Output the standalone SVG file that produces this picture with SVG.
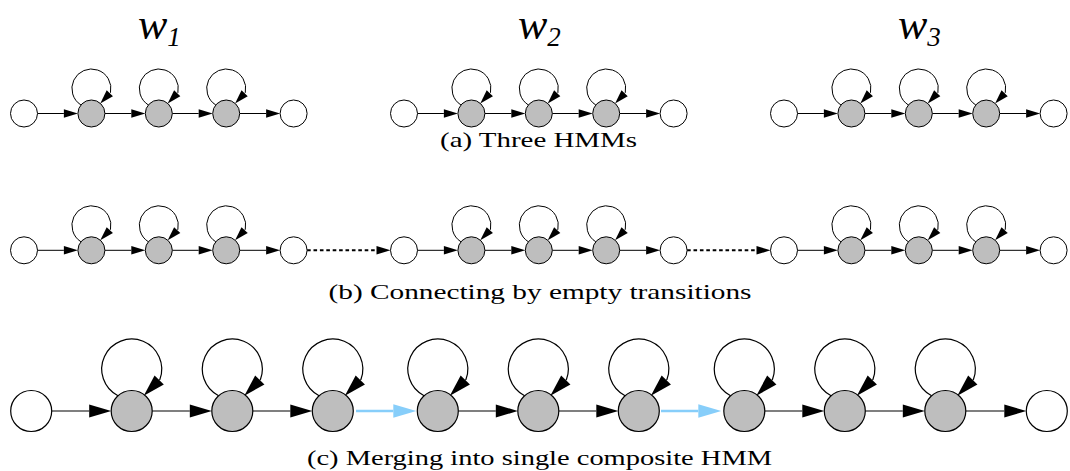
<svg xmlns="http://www.w3.org/2000/svg" width="1070" height="471" viewBox="0 0 1070 471">
  <defs>
    <style>
      .st { fill: #ffffff; stroke: #000; stroke-width: 1; }
      .hs { fill: #bebebe; stroke: #000; stroke-width: 1; }
      .stL { fill: #ffffff; stroke: #000; stroke-width: 1.2; }
      .hsL { fill: #bebebe; stroke: #000; stroke-width: 1.2; }
      .e { fill: none; stroke: #000; stroke-width: 1; marker-end: url(#arrA); }
      .dot { fill: none; stroke: #000; stroke-width: 2; stroke-dasharray: 3.6 2.8; marker-end: url(#arrA); }
      .eL { fill: none; stroke: #000; stroke-width: 1.2; marker-end: url(#arrC); }
      .blue { fill: none; stroke: #87cefa; stroke-width: 2.4; marker-end: url(#arrB); }
      .wl { font-family: "Liberation Serif", "Times New Roman", serif; font-style: italic; font-size: 44px; fill: #000; }
      .cap { font-family: "Liberation Serif", "Times New Roman", serif; font-size: 21px; fill: #000; }
    </style>
    <marker id="arrA" markerUnits="userSpaceOnUse" markerWidth="15" markerHeight="10" refX="0" refY="4.25" orient="auto" overflow="visible">
      <path d="M0,0 L14,4.25 L0,8.5 z" fill="#000"/>
    </marker>
    <marker id="arrC" markerUnits="userSpaceOnUse" markerWidth="23" markerHeight="14" refX="0" refY="6.5" orient="auto" overflow="visible">
      <path d="M0,0 L22,6.5 L0,13 z" fill="#000"/>
    </marker>
    <marker id="arrB" markerUnits="userSpaceOnUse" markerWidth="24" markerHeight="14" refX="0" refY="6.7" orient="auto" overflow="visible">
      <path d="M0,0 L23,6.7 L0,13.4 z" fill="#87cefa"/>
    </marker>
  </defs>

  <rect x="0" y="0" width="1070" height="471" fill="#ffffff"/>

  <!-- word labels -->
  <text class="wl" x="138" y="39">w<tspan font-size="27" dy="6.5">1</tspan></text>
  <text class="wl" x="518" y="39">w<tspan font-size="27" dy="6.5">2</tspan></text>
  <text class="wl" x="898" y="39">w<tspan font-size="27" dy="6.5">3</tspan></text>

  <!-- connectors -->
  <g id="connectors">
    <!-- (a) straight transitions -->
    <line class="e" x1="37.5" y1="113.5" x2="63.9" y2="113.5"/>
    <line class="e" x1="104.9" y1="113.5" x2="131.3" y2="113.5"/>
    <line class="e" x1="172.3" y1="113.5" x2="198.7" y2="113.5"/>
    <line class="e" x1="239.7" y1="113.5" x2="266.1" y2="113.5"/>
    <line class="e" x1="417.5" y1="113.5" x2="443.9" y2="113.5"/>
    <line class="e" x1="484.9" y1="113.5" x2="511.3" y2="113.5"/>
    <line class="e" x1="552.3" y1="113.5" x2="578.7" y2="113.5"/>
    <line class="e" x1="619.7" y1="113.5" x2="646.1" y2="113.5"/>
    <line class="e" x1="797.5" y1="113.5" x2="823.9" y2="113.5"/>
    <line class="e" x1="864.9" y1="113.5" x2="891.3" y2="113.5"/>
    <line class="e" x1="932.3" y1="113.5" x2="958.7" y2="113.5"/>
    <line class="e" x1="999.7" y1="113.5" x2="1026.1" y2="113.5"/>
    <!-- (a) self loops, each drawn around its state centre -->
    <path class="e" transform="translate(91.4,113.5)" d="M-10.4,-8.5 A19.5 19.5 0 1 1 19.1,-21 l-0.68,0.73"/>
    <path class="e" transform="translate(158.8,113.5)" d="M-10.4,-8.5 A19.5 19.5 0 1 1 19.1,-21 l-0.68,0.73"/>
    <path class="e" transform="translate(226.2,113.5)" d="M-10.4,-8.5 A19.5 19.5 0 1 1 19.1,-21 l-0.68,0.73"/>
    <path class="e" transform="translate(471.4,113.5)" d="M-10.4,-8.5 A19.5 19.5 0 1 1 19.1,-21 l-0.68,0.73"/>
    <path class="e" transform="translate(538.8,113.5)" d="M-10.4,-8.5 A19.5 19.5 0 1 1 19.1,-21 l-0.68,0.73"/>
    <path class="e" transform="translate(606.2,113.5)" d="M-10.4,-8.5 A19.5 19.5 0 1 1 19.1,-21 l-0.68,0.73"/>
    <path class="e" transform="translate(851.4,113.5)" d="M-10.4,-8.5 A19.5 19.5 0 1 1 19.1,-21 l-0.68,0.73"/>
    <path class="e" transform="translate(918.8,113.5)" d="M-10.4,-8.5 A19.5 19.5 0 1 1 19.1,-21 l-0.68,0.73"/>
    <path class="e" transform="translate(986.2,113.5)" d="M-10.4,-8.5 A19.5 19.5 0 1 1 19.1,-21 l-0.68,0.73"/>

    <!-- (b) straight transitions -->
    <line class="e" x1="37.5" y1="250.3" x2="63.9" y2="250.3"/>
    <line class="e" x1="104.9" y1="250.3" x2="131.3" y2="250.3"/>
    <line class="e" x1="172.3" y1="250.3" x2="198.7" y2="250.3"/>
    <line class="e" x1="239.7" y1="250.3" x2="266.1" y2="250.3"/>
    <line class="e" x1="417.5" y1="250.3" x2="443.9" y2="250.3"/>
    <line class="e" x1="484.9" y1="250.3" x2="511.3" y2="250.3"/>
    <line class="e" x1="552.3" y1="250.3" x2="578.7" y2="250.3"/>
    <line class="e" x1="619.7" y1="250.3" x2="646.1" y2="250.3"/>
    <line class="e" x1="797.5" y1="250.3" x2="823.9" y2="250.3"/>
    <line class="e" x1="864.9" y1="250.3" x2="891.3" y2="250.3"/>
    <line class="e" x1="932.3" y1="250.3" x2="958.7" y2="250.3"/>
    <line class="e" x1="999.7" y1="250.3" x2="1026.1" y2="250.3"/>
    <!-- (b) empty transitions -->
    <line class="dot" x1="307.1" y1="250.3" x2="376.5" y2="250.3"/>
    <line class="dot" x1="687.1" y1="250.3" x2="756.5" y2="250.3"/>
    <!-- (b) self loops -->
    <path class="e" transform="translate(91.4,250.3)" d="M-10.4,-8.5 A19.5 19.5 0 1 1 19.1,-21 l-0.68,0.73"/>
    <path class="e" transform="translate(158.8,250.3)" d="M-10.4,-8.5 A19.5 19.5 0 1 1 19.1,-21 l-0.68,0.73"/>
    <path class="e" transform="translate(226.2,250.3)" d="M-10.4,-8.5 A19.5 19.5 0 1 1 19.1,-21 l-0.68,0.73"/>
    <path class="e" transform="translate(471.4,250.3)" d="M-10.4,-8.5 A19.5 19.5 0 1 1 19.1,-21 l-0.68,0.73"/>
    <path class="e" transform="translate(538.8,250.3)" d="M-10.4,-8.5 A19.5 19.5 0 1 1 19.1,-21 l-0.68,0.73"/>
    <path class="e" transform="translate(606.2,250.3)" d="M-10.4,-8.5 A19.5 19.5 0 1 1 19.1,-21 l-0.68,0.73"/>
    <path class="e" transform="translate(851.4,250.3)" d="M-10.4,-8.5 A19.5 19.5 0 1 1 19.1,-21 l-0.68,0.73"/>
    <path class="e" transform="translate(918.8,250.3)" d="M-10.4,-8.5 A19.5 19.5 0 1 1 19.1,-21 l-0.68,0.73"/>
    <path class="e" transform="translate(986.2,250.3)" d="M-10.4,-8.5 A19.5 19.5 0 1 1 19.1,-21 l-0.68,0.73"/>

    <!-- (c) composite chain -->
    <line class="eL" x1="51.7" y1="411" x2="89.2" y2="411"/>
    <line class="eL" x1="152.2" y1="411" x2="189.8" y2="411"/>
    <line class="eL" x1="252.8" y1="411" x2="290.3" y2="411"/>
    <line class="blue" x1="356" y1="411" x2="393.3" y2="411"/>
    <line class="eL" x1="458.3" y1="411" x2="495.8" y2="411"/>
    <line class="eL" x1="558.8" y1="411" x2="596.3" y2="411"/>
    <line class="blue" x1="661" y1="411" x2="698.3" y2="411"/>
    <line class="eL" x1="764.8" y1="411" x2="802.3" y2="411"/>
    <line class="eL" x1="865.3" y1="411" x2="902.8" y2="411"/>
    <line class="eL" x1="965.8" y1="411" x2="1004.3" y2="411"/>
    <!-- (c) self loops -->
    <path class="eL" transform="translate(131.7,411)" d="M-13.7,-15.3 A30 30 0 1 1 28.2,-31.7 l-0.7,0.71"/>
    <path class="eL" transform="translate(232.3,411)" d="M-13.7,-15.3 A30 30 0 1 1 28.2,-31.7 l-0.7,0.71"/>
    <path class="eL" transform="translate(332.8,411)" d="M-13.7,-15.3 A30 30 0 1 1 28.2,-31.7 l-0.7,0.71"/>
    <path class="eL" transform="translate(437.8,411)" d="M-13.7,-15.3 A30 30 0 1 1 28.2,-31.7 l-0.7,0.71"/>
    <path class="eL" transform="translate(538.3,411)" d="M-13.7,-15.3 A30 30 0 1 1 28.2,-31.7 l-0.7,0.71"/>
    <path class="eL" transform="translate(638.8,411)" d="M-13.7,-15.3 A30 30 0 1 1 28.2,-31.7 l-0.7,0.71"/>
    <path class="eL" transform="translate(744.3,411)" d="M-13.7,-15.3 A30 30 0 1 1 28.2,-31.7 l-0.7,0.71"/>
    <path class="eL" transform="translate(844.8,411)" d="M-13.7,-15.3 A30 30 0 1 1 28.2,-31.7 l-0.7,0.71"/>
    <path class="eL" transform="translate(945.3,411)" d="M-13.7,-15.3 A30 30 0 1 1 28.2,-31.7 l-0.7,0.71"/>
  </g>

  <!-- (a) three separate word models -->
  <g id="a1s"><circle class="st" cx="24" cy="113.5" r="13.5"/></g>
  <g id="a1h1"><circle class="hs" cx="91.4" cy="113.5" r="13.5"/></g>
  <g id="a1h2"><circle class="hs" cx="158.8" cy="113.5" r="13.5"/></g>
  <g id="a1h3"><circle class="hs" cx="226.2" cy="113.5" r="13.5"/></g>
  <g id="a1e"><circle class="st" cx="293.6" cy="113.5" r="13.5"/></g>
  <g id="a2s"><circle class="st" cx="404" cy="113.5" r="13.5"/></g>
  <g id="a2h1"><circle class="hs" cx="471.4" cy="113.5" r="13.5"/></g>
  <g id="a2h2"><circle class="hs" cx="538.8" cy="113.5" r="13.5"/></g>
  <g id="a2h3"><circle class="hs" cx="606.2" cy="113.5" r="13.5"/></g>
  <g id="a2e"><circle class="st" cx="673.6" cy="113.5" r="13.5"/></g>
  <g id="a3s"><circle class="st" cx="784" cy="113.5" r="13.5"/></g>
  <g id="a3h1"><circle class="hs" cx="851.4" cy="113.5" r="13.5"/></g>
  <g id="a3h2"><circle class="hs" cx="918.8" cy="113.5" r="13.5"/></g>
  <g id="a3h3"><circle class="hs" cx="986.2" cy="113.5" r="13.5"/></g>
  <g id="a3e"><circle class="st" cx="1053.6" cy="113.5" r="13.5"/></g>

  <!-- (b) models joined by empty transitions -->
  <g id="b1s"><circle class="st" cx="24" cy="250.3" r="13.5"/></g>
  <g id="b1h1"><circle class="hs" cx="91.4" cy="250.3" r="13.5"/></g>
  <g id="b1h2"><circle class="hs" cx="158.8" cy="250.3" r="13.5"/></g>
  <g id="b1h3"><circle class="hs" cx="226.2" cy="250.3" r="13.5"/></g>
  <g id="b1e"><circle class="st" cx="293.6" cy="250.3" r="13.5"/></g>
  <g id="b2s"><circle class="st" cx="404" cy="250.3" r="13.5"/></g>
  <g id="b2h1"><circle class="hs" cx="471.4" cy="250.3" r="13.5"/></g>
  <g id="b2h2"><circle class="hs" cx="538.8" cy="250.3" r="13.5"/></g>
  <g id="b2h3"><circle class="hs" cx="606.2" cy="250.3" r="13.5"/></g>
  <g id="b2e"><circle class="st" cx="673.6" cy="250.3" r="13.5"/></g>
  <g id="b3s"><circle class="st" cx="784" cy="250.3" r="13.5"/></g>
  <g id="b3h1"><circle class="hs" cx="851.4" cy="250.3" r="13.5"/></g>
  <g id="b3h2"><circle class="hs" cx="918.8" cy="250.3" r="13.5"/></g>
  <g id="b3h3"><circle class="hs" cx="986.2" cy="250.3" r="13.5"/></g>
  <g id="b3e"><circle class="st" cx="1053.6" cy="250.3" r="13.5"/></g>

  <!-- (c) single composite model -->
  <g id="cs"><circle class="stL" cx="31.2" cy="411" r="20.5"/></g>
  <g id="ch1"><circle class="hsL" cx="131.7" cy="411" r="20.5"/></g>
  <g id="ch2"><circle class="hsL" cx="232.3" cy="411" r="20.5"/></g>
  <g id="ch3"><circle class="hsL" cx="332.8" cy="411" r="20.5"/></g>
  <g id="ch4"><circle class="hsL" cx="437.8" cy="411" r="20.5"/></g>
  <g id="ch5"><circle class="hsL" cx="538.3" cy="411" r="20.5"/></g>
  <g id="ch6"><circle class="hsL" cx="638.8" cy="411" r="20.5"/></g>
  <g id="ch7"><circle class="hsL" cx="744.3" cy="411" r="20.5"/></g>
  <g id="ch8"><circle class="hsL" cx="844.8" cy="411" r="20.5"/></g>
  <g id="ch9"><circle class="hsL" cx="945.3" cy="411" r="20.5"/></g>
  <g id="ce"><circle class="stL" cx="1046.8" cy="411" r="20.5"/></g>

  <!-- captions -->
  <text class="cap" x="440" y="146.5" textLength="197" lengthAdjust="spacingAndGlyphs">(a) Three HMMs</text>
  <text class="cap" x="328.5" y="298.5" textLength="423" lengthAdjust="spacingAndGlyphs">(b) Connecting by empty transitions</text>
  <text class="cap" x="307" y="464.5" textLength="465" lengthAdjust="spacingAndGlyphs">(c) Merging into single composite HMM</text>
</svg>
